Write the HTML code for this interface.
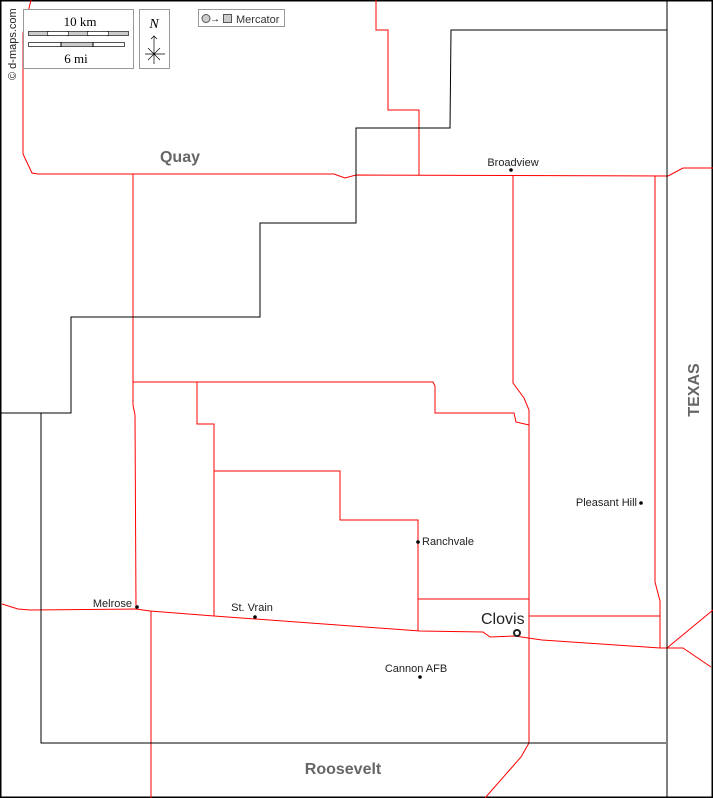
<!DOCTYPE html>
<html><head><style>
html,body{margin:0;padding:0;background:#fff}
svg{display:block}
text{font-family:"Liberation Sans",sans-serif}
</style></head><body>
<svg width="713" height="798" viewBox="0 0 713 798" xmlns="http://www.w3.org/2000/svg">
<rect x="0.5" y="0.5" width="712" height="797" fill="#fff" stroke="#000" stroke-width="2"/>
<g fill="none" stroke="#f00" stroke-width="1">
<path d="M31,0 L23,33 L23,154 L32,173 L38,174 L334,174 L345,178 L356,175 L668,176 L683,168 L713,168"/>
<path d="M376,0 L376,30 L388,30 L388,110 L419,110 L419,175"/>
<path d="M133,174 L133,405 L135,415 L136,608"/>
<path d="M133,382 L433,382 L435,386 L435,413 L514,413 L516,422 L529,425"/>
<path d="M197,382 L197,424 L214,424 L214,616"/>
<path d="M214,471 L340,471 L340,520 L418,520 L418,631"/>
<path d="M418,599 L529,599"/>
<path d="M513,176 L513,383 L524,398 L529,410 L529,743 L521,757 L485,798"/>
<path d="M529,616 L660,616"/>
<path d="M655,176 L655,582 L660,601 L660,648"/>
<path d="M2,604 L18,609 L30,610 L136,609 L150,611 L214,616 L420,631 L483,632 L490,637 L515,636 L535,639 L542,640 L660,648 L683,648 L711,667"/>
<path d="M667,648 L713,610"/>
<path d="M151,611 L151,798"/>
</g>
<g fill="none" stroke="#000" stroke-width="1">
<path d="M667,0 L667,798"/>
<path d="M667,30 L451,30 L450,128 L356,128 L356,223 L260,223 L260,317 L71,317 L71,413 L0,413"/>
<path d="M41,413 L41,743 L666,743"/>
</g>
<rect x="23.5" y="9.5" width="110" height="59" fill="#fff" stroke="#999"/>
<text x="80" y="26" style="font-family:'Liberation Serif',serif;font-size:13px" text-anchor="middle">10 km</text>
<rect x="28.5" y="31.5" width="100" height="4" fill="#ccc" stroke="#555"/>
<path d="M48,31v5M68,31v5M88,31v5M108,31v5" stroke="#000"/>
<rect x="48" y="32" width="20" height="3" fill="#fff"/><rect x="88" y="32" width="20" height="3" fill="#fff"/>
<rect x="28.5" y="42.5" width="96" height="4" fill="#fff" stroke="#555"/>
<rect x="61" y="43" width="32" height="3" fill="#ccc"/>
<path d="M61,42v5M93,42v5" stroke="#000"/>
<text x="76" y="63" style="font-family:'Liberation Serif',serif;font-size:13px" text-anchor="middle">6 mi</text>
<rect x="139.5" y="9.5" width="30" height="59" fill="#fff" stroke="#999"/>
<text x="154" y="28" style="font-family:'Liberation Serif',serif;font-size:14px;font-style:italic" text-anchor="middle">N</text>
<path d="M154,36v28M151,39l3,-3l3,3M145,54h20M148,48l12,12M160,48l-12,12" stroke="#000" stroke-width="0.7" fill="none"/>
<rect x="198.5" y="9.5" width="86" height="17" fill="#fff" stroke="#999"/>
<circle cx="206" cy="18.5" r="4" fill="#ccc" stroke="#555"/>
<text x="210" y="22" font-size="10">→</text>
<rect x="223.5" y="14.5" width="8" height="8" fill="#ccc" stroke="#555"/>
<text x="236" y="23" font-size="11" fill="#333">Mercator</text>
<text transform="translate(16,80) rotate(-90)" font-size="11" fill="#222">© d-maps.com</text>
<text x="180" y="162" font-size="16" font-weight="bold" fill="#666" text-anchor="middle">Quay</text>
<text x="343" y="774" font-size="16" font-weight="bold" fill="#666" text-anchor="middle">Roosevelt</text>
<text transform="translate(699,390) rotate(-90)" font-size="16" font-weight="bold" fill="#666" text-anchor="middle">TEXAS</text>
<g font-size="11" fill="#222">
<text x="513" y="166" text-anchor="middle">Broadview</text>
<text x="132" y="607" text-anchor="end">Melrose</text>
<text x="252" y="611" text-anchor="middle">St. Vrain</text>
<text x="416" y="672" text-anchor="middle">Cannon AFB</text>
<text x="422" y="545">Ranchvale</text>
<text x="637" y="506" text-anchor="end">Pleasant Hill</text>
</g>
<text x="481" y="624" font-size="16" fill="#222">Clovis</text>
<g fill="#000">
<circle cx="511" cy="170" r="1.8"/>
<circle cx="137" cy="607" r="1.8"/>
<circle cx="255" cy="617" r="1.8"/>
<circle cx="420" cy="677" r="1.8"/>
<circle cx="418" cy="542" r="1.8"/>
<circle cx="641" cy="503" r="1.8"/>
</g>
<circle cx="517" cy="633" r="3" fill="#fff" stroke="#222" stroke-width="2"/>
</svg>
</body></html>
